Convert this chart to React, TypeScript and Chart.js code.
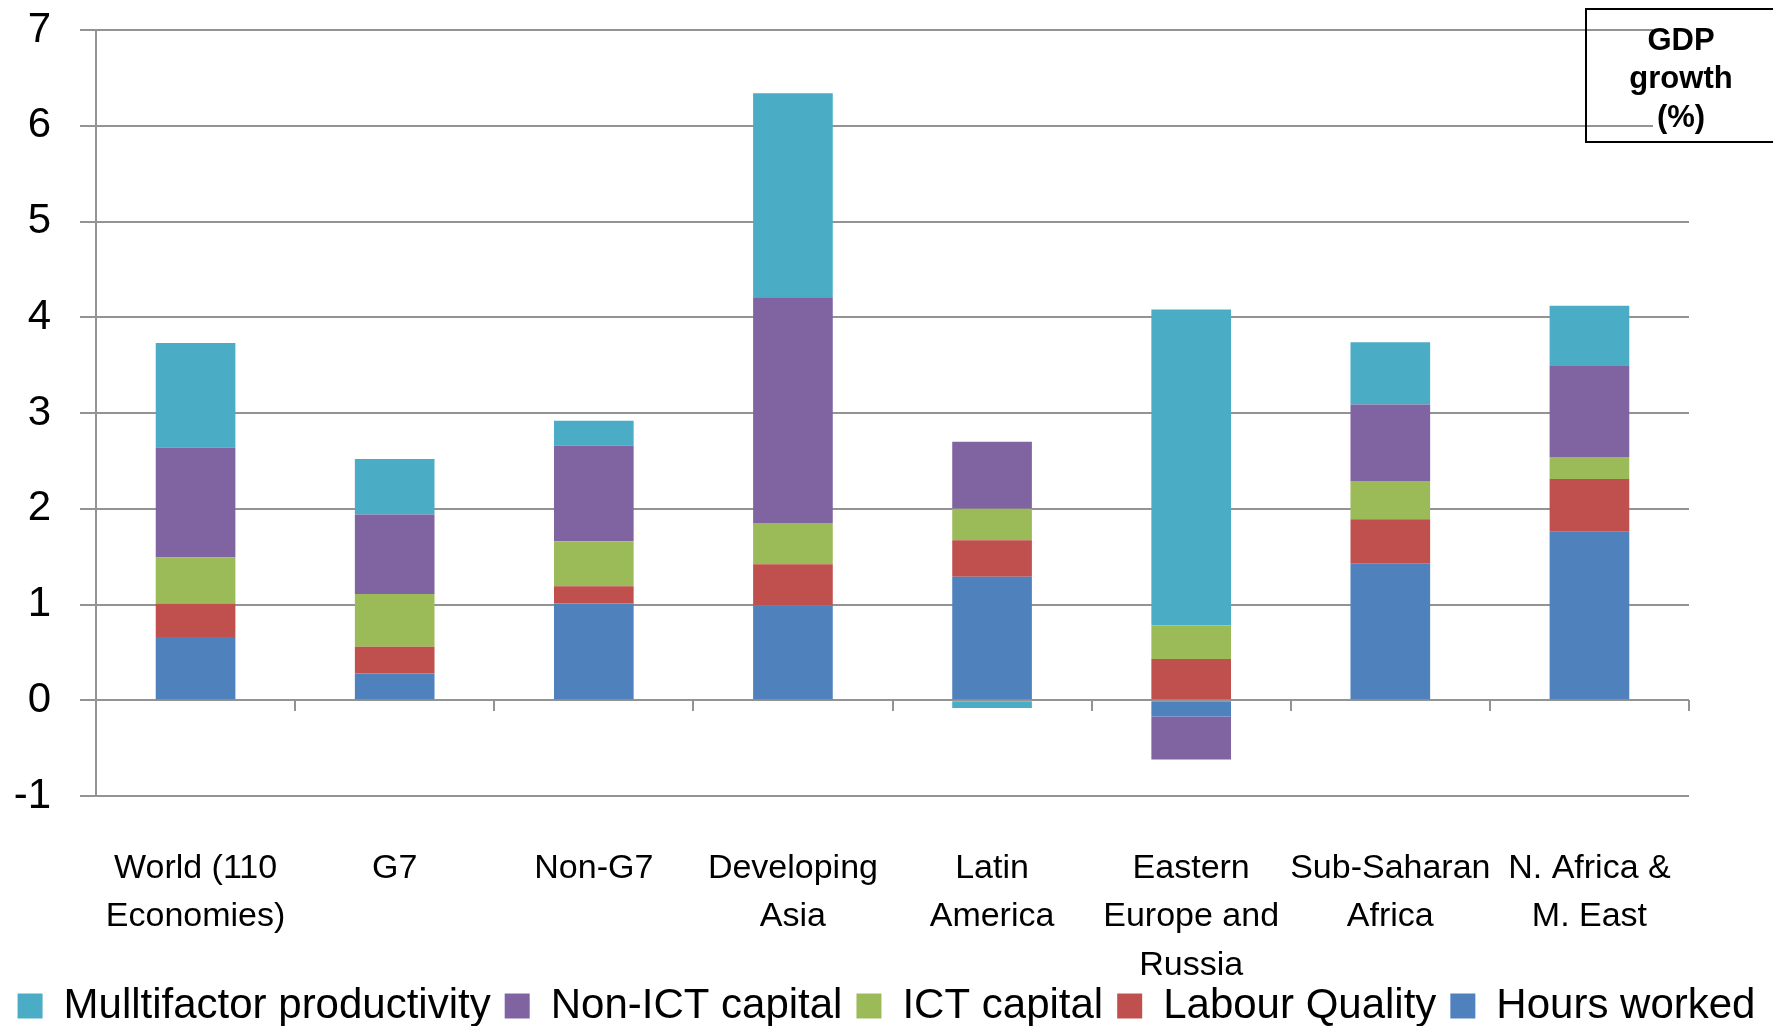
import React, { useEffect, useRef } from "react";
import { Chart, registerables } from "chart.js";

Chart.register(...registerables);

// ---------- data ----------
const categories: string[][] = [
  ["World (110", "Economies)"],
  ["G7"],
  ["Non-G7"],
  ["Developing", "Asia"],
  ["Latin", "America"],
  ["Eastern", "Europe and", "Russia"],
  ["Sub-Saharan", "Africa"],
  ["N. Africa &", "M. East"],
];
const hoursWorked = [0.66, 0.28, 1.01, 0.99, 1.29, -0.17, 1.43, 1.76];
const labourQuality = [0.35, 0.28, 0.18, 0.43, 0.38, 0.43, 0.46, 0.55];
const ictCapital = [0.48, 0.55, 0.47, 0.43, 0.33, 0.35, 0.4, 0.23];
const nonIctCapital = [1.15, 0.83, 1.0, 2.36, 0.7, -0.45, 0.8, 0.95];
const multifactor = [1.09, 0.58, 0.26, 2.13, -0.08, 3.3, 0.65, 0.63];
const seriesNames = [
  "Hours worked",
  "Labour Quality",
  "ICT capital",
  "Non-ICT capital",
  "Mulltifactor productivity",
];
const seriesColors = ["#4F81BD", "#C0504D", "#9BBB59", "#8064A2", "#4BACC6"];
const yMin = -1;
const yMax = 7;
const yStep = 1;
const boxTitle = ["GDP", "growth", "(%)"];

const FONT = "'Liberation Sans', Arial, sans-serif";
const GRID = "#939393";

const legendShift = {
  id: "legendShift",
  afterLayout(chart: any) {
    const lg = chart.legend;
    if (lg) {
      lg.top += 11;
      lg.bottom += 11;
    }
  },
};

export default function App() {
  const ref = useRef<HTMLCanvasElement | null>(null);

  useEffect(() => {
    if (!ref.current) return;
    const values = [hoursWorked, labourQuality, ictCapital, nonIctCapital, multifactor];
    const chart = new Chart(ref.current, {
      type: "bar",
      data: {
        labels: categories,
        datasets: values.map((v, i) => ({
          label: seriesNames[i],
          data: v,
          backgroundColor: seriesColors[i],
          borderWidth: 0,
          barPercentage: 0.4,
          categoryPercentage: 1,
        })),
      },
      plugins: [legendShift],
      options: {
        responsive: false,
        animation: false,
        devicePixelRatio: 1,
        layout: { padding: { top: 30, left: 0, right: 0, bottom: 0 } },
        plugins: {
          tooltip: { enabled: false },
          legend: {
            position: "bottom",
            reverse: true,
            labels: {
              boxWidth: 25,
              boxHeight: 25,
              padding: 14,
              color: "#000",
              font: { family: FONT, size: 42 },
            },
          },
        },
        scales: {
          x: {
            stacked: true,
            grid: { display: false, drawTicks: false },
            border: { display: false },
            ticks: {
              color: "#000",
              padding: 48,
              maxRotation: 0,
              autoSkip: false,
              font: { family: FONT, size: 34, lineHeight: 1.426 },
            },
            afterFit: (s: any) => {
              const lg = s.chart.legend ? s.chart.legend.height : 64;
              s.height = 1026 - 796 - lg;
              s._computeLabelArea = () => undefined;
            },
          },
          xZero: {
            type: "category",
            position: { y: 0 } as any,
            offset: true,
            ticks: { display: false },
            grid: {
              display: true,
              offset: true,
              drawOnChartArea: false,
              drawTicks: true,
              tickLength: 11,
              color: GRID,
              lineWidth: 2,
            },
            border: { display: false },
          },
          y: {
            stacked: true,
            min: yMin,
            max: yMax,
            ticks: {
              stepSize: yStep,
              color: "#000",
              padding: 29,
              font: { family: FONT, size: 42 },
            },
            grid: { color: GRID, lineWidth: 2, tickLength: 16 },
            border: { display: true, color: GRID, width: 2 },
            afterFit: (s: any) => {
              s.width = 96;
              s.paddingTop = 0;
              s.paddingBottom = 0;
            },
          },
          yRight: {
            position: "right",
            min: yMin,
            max: yMax,
            ticks: { display: false },
            grid: { display: false, drawTicks: false },
            border: { display: false },
            afterFit: (s: any) => {
              s.width = 84;
              s.paddingTop = 0;
              s.paddingBottom = 0;
            },
          },
        },
      } as any,
    });
    return () => chart.destroy();
  }, []);

  return (
    <div
      style={{
        position: "absolute",
        left: 0,
        top: 0,
        width: 1773,
        height: 1026,
        background: "#fff",
        overflow: "hidden",
      }}
    >
      <canvas ref={ref} width={1773} height={1026} style={{ display: "block" }} />
      <div
        style={{
          position: "absolute",
          left: 1585,
          top: 8,
          width: 200,
          height: 135,
          border: "2px solid #000",
          boxSizing: "border-box",
        }}
      />
      <div
        style={{
          position: "absolute",
          left: 1653,
          top: 12,
          width: 120,
          height: 126,
          background: "#fff",
        }}
      />
      <div
        style={{
          position: "absolute",
          left: 1611,
          top: 21,
          width: 140,
          textAlign: "center",
          fontFamily: FONT,
          fontWeight: "bold",
          fontSize: 31,
          lineHeight: "38.3px",
          color: "#000",
        }}
      >
        {boxTitle.map((t) => (
          <div key={t}>{t}</div>
        ))}
      </div>
    </div>
  );
}
